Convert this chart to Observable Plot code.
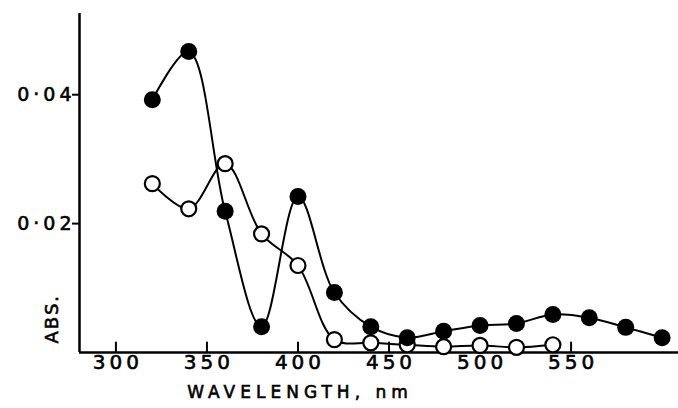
<!DOCTYPE html>
<html>
<head>
<meta charset="utf-8">
<script src="https://cdn.jsdelivr.net/npm/d3@7"></script>
<script src="https://cdn.jsdelivr.net/npm/@observablehq/plot@0.6"></script>
<style>
  html, body { margin: 0; padding: 0; background: #fff; }
  svg { font-family: "DejaVu Sans", sans-serif; }
  svg text { stroke: #000; stroke-width: 0.6px; }
  g[aria-label="y-axis tick label"] text { letter-spacing: 4px; font-size: 19px; }
  g[aria-label="x-axis tick label"] text { letter-spacing: 4px; font-size: 20px; }
</style>
</head>
<body>
<div id="chart"></div>
<script>
// Filled-circle series
const filledWave = [320, 340, 360, 380, 400, 420, 440, 460, 480, 500, 520, 540, 560, 580, 600];
const filledAbs  = [0.0392, 0.0467, 0.0219, 0.0040, 0.0242, 0.0093, 0.0040, 0.0023, 0.0033, 0.0042, 0.0045, 0.0059, 0.0054, 0.0039, 0.0023];
// Open-circle series
const openWave = [320, 340, 360, 380, 400, 420, 440, 460, 480, 500, 520, 540];
const openAbs  = [0.0262, 0.0223, 0.0293, 0.0184, 0.0135, 0.0020, 0.0015, 0.0012, 0.0009, 0.0011, 0.0008, 0.0012];
// Axis ticks
const xTicks = [300, 350, 400, 450, 500, 550];
const yTicks = [0.02, 0.04];
const xLabel = "WAVELENGTH, nm";
const yLabel = "ABS.";

const filled = filledWave.map((w, i) => ({w, a: filledAbs[i]}));
const open = openWave.map((w, i) => ({w, a: openAbs[i]}));

const chart = Plot.plot({
  width: 678,
  height: 408,
  marginLeft: 79,
  marginRight: 0,
  marginTop: 13,
  marginBottom: 56,
  style: {fontFamily: "DejaVu Sans, sans-serif", color: "#000", background: "#fff"},
  x: {domain: [280, 609]},
  y: {domain: [0, 0.0526]},
  marks: [
    Plot.ruleY([0], {stroke: "#000", strokeWidth: 2.5}),
    Plot.ruleX([280], {stroke: "#000", strokeWidth: 2.5}),
    Plot.axisY({ticks: yTicks, tickSize: 7, tickPadding: -3, strokeWidth: 2,
      tickFormat: d => d3.format(".2f")(d).replace(".", "·"),
      fontSize: 19, label: null}),
    Plot.axisX({ticks: xTicks, tickSize: 0, tickPadding: 2, dx: 2, fontSize: 20, label: null}),
    Plot.ruleX(xTicks, {y1: 0, y2: 0.0016, stroke: "#000", strokeWidth: 2}),
    Plot.text([xLabel], {x: 400, frameAnchor: "bottom", dy: 45, dx: 2, fontSize: 17, fill: "#000"}),
    Plot.text([yLabel], {x: 280, y: 0.0054, dx: -27, dy: 1, rotate: -90, fontSize: 18, fill: "#000"}),
    Plot.line(filled, {x: "w", y: "a", curve: "catmull-rom", stroke: "#000", strokeWidth: 2}),
    Plot.line(open, {x: "w", y: "a", curve: "catmull-rom", stroke: "#000", strokeWidth: 2}),
    Plot.dot(open, {x: "w", y: "a", r: 7.5, fill: "#fff", stroke: "#000", strokeWidth: 2.2}),
    Plot.dot(filled, {x: "w", y: "a", r: 8.5, fill: "#000", stroke: "none"})
  ]
});
d3.select(chart).selectAll("text")
  .filter(function() { return this.textContent === xLabel; })
  .attr("letter-spacing", "5px").style("font-size", "17px");
d3.select(chart).selectAll("text")
  .filter(function() { return this.textContent === yLabel; })
  .attr("letter-spacing", "2px").style("font-size", "18px");
document.getElementById("chart").appendChild(chart);
</script>
</body>
</html>
